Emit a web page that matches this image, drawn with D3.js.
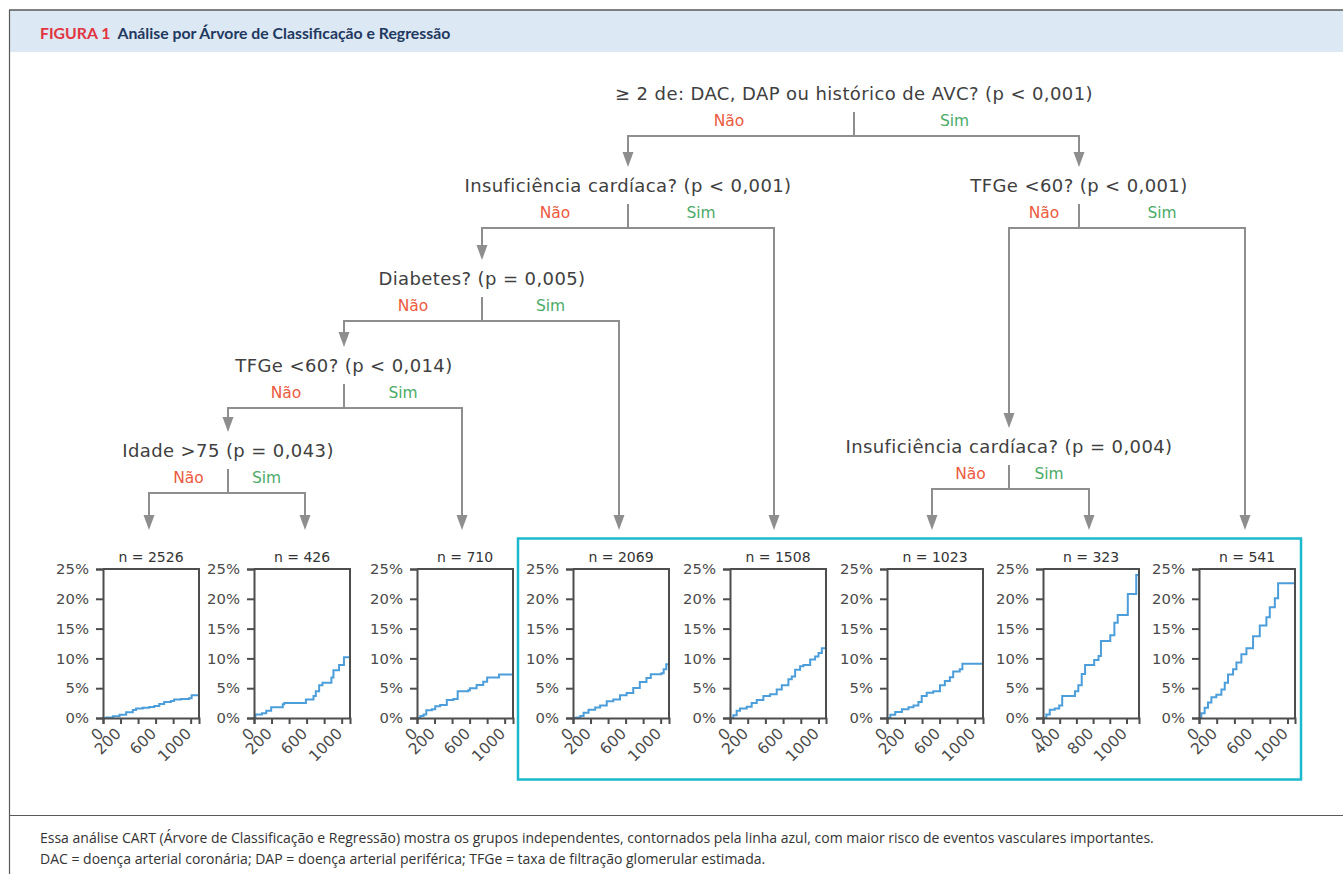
<!DOCTYPE html>
<html>
<head>
<meta charset="utf-8">
<script src="https://cdn.jsdelivr.net/npm/d3@7"></script>
<style>
  body { margin: 0; background: #fff; }
  svg { display: block; }
</style>
</head>
<body>
<svg id="fig" width="1343" height="874"></svg>
<script>
// ---------------------------------------------------------------
// Terminal groups of the tree (left to right): number of patients
const groupN = [2526, 426, 710, 2069, 1508, 1023, 323, 541];

// Cumulative incidence of major vascular events: [day, %]
const risk2526 = [[0,0],[38,0.1],[113,0.3],[189,0.56],[264,0.95],[340,1.35],[377,1.6],[453,1.7],[528,1.85],[585,2.0],[642,2.35],[698,2.7],[774,2.86],[811,3.1],[887,3.2],[981,3.3],[1011,3.8]];
const risk426  = [[0,0],[15,0.6],[91,0.8],[140,1.2],[196,1.8],[328,2.3],[345,2.5],[592,3.1],[679,3.7],[705,4.5],[743,5.5],[781,5.9],[883,6.8],[906,8.0],[970,8.9],[1026,10.2]];
const risk710  = [[0,0],[38,0.35],[75,0.6],[106,1.3],[170,1.45],[208,1.96],[264,2.2],[340,3.0],[415,3.2],[464,4.5],[585,4.65],[604,5.0],[680,5.55],[755,6.1],[800,6.8],[936,7.3]];
const risk2069 = [[0,0],[38,0.1],[83,0.35],[121,0.9],[177,1.4],[253,1.75],[309,2.1],[385,2.8],[460,3.1],[536,3.8],[611,4.2],[687,5.05],[762,6.05],[838,6.7],[887,7.35],[1008,7.5],[1034,8.2],[1064,9.0]];
const risk1508 = [[0,0],[38,0.45],[75,1.2],[113,1.6],[189,1.9],[245,2.5],[302,3.0],[377,3.7],[453,4.0],[528,4.8],[585,5.5],[660,6.5],[698,6.95],[736,8.1],[792,8.7],[830,8.9],[906,9.8],[962,10.3],[1000,10.9],[1038,11.7]];
const risk1023 = [[0,0],[38,0.56],[94,1.0],[170,1.45],[245,1.8],[302,2.1],[358,2.7],[396,3.7],[453,4.25],[528,4.5],[604,5.5],[660,6.2],[717,6.85],[755,7.8],[830,8.2],[860,9.1]];
const risk323  = [[0,0],[40,0.6],[81,1.4],[141,1.6],[194,2.1],[230,3.7],[383,4.5],[423,5.5],[464,7.4],[504,8.9],[613,9.75],[665,10.4],[694,12.9],[806,13.9],[855,16.0],[895,17.3],[1016,20.8],[1117,24.0]];
const risk541  = [[0,0],[26,0.8],[64,1.7],[102,2.6],[140,3.5],[196,3.9],[253,4.8],[291,5.9],[328,7.3],[385,8.2],[423,9.3],[479,10.7],[536,11.7],[611,13.7],[687,15.5],[762,16.9],[800,18.6],[857,20.1],[894,22.6]];
const riskCurves = [risk2526, risk426, risk710, risk2069, risk1508, risk1023, risk323, risk541];

// Length of follow-up shown on each panel (days)
const followUpMax = [1095, 1095, 1095, 1095, 1085, 1095, 1150, 1085];

// Axis ticks
const yTicks = [0, 5, 10, 15, 20, 25];
const xTicks = [0, 200, 400, 600, 800, 1000];
const xTickLabelsDefault = ["0", "200", "", "600", "", "1000"];
const xTickLabels323 = ["0", "400", "", "800", "", "1000"];
const xTickLabels = [xTickLabelsDefault, xTickLabelsDefault, xTickLabelsDefault, xTickLabelsDefault,
                     xTickLabelsDefault, xTickLabelsDefault, xTickLabels323, xTickLabelsDefault];

// Decision nodes: question and p value
const questions = [
  "\u2265 2 de: DAC, DAP ou histórico de AVC?",
  "Insuficiência cardíaca?",
  "TFGe <60?",
  "Diabetes?",
  "TFGe <60?",
  "Idade >75",
  "Insuficiência cardíaca?"
];
const pValues = ["p < 0,001", "p < 0,001", "p < 0,001", "p = 0,005", "p < 0,014", "p = 0,043", "p = 0,004"];
const branchLabels = ["Não", "Sim"];
// Children of each node: "n#" = decision node, "g#" = terminal group
const nodeChildren = [["n1", "n2"], ["n3", "g4"], ["n6", "g7"], ["n4", "g3"], ["n5", "g2"], ["g0", "g1"], ["g5", "g6"]];

const titleLabel = "FIGURA 1";
const titleText = "Análise por Árvore de Classificação e Regressão";
const footnotes = [
  "Essa análise CART (Árvore de Classificação e Regressão) mostra os grupos independentes, contornados pela linha azul, com maior risco de eventos vasculares importantes.",
  "DAC = doença arterial coronária; DAP = doença arterial periférica; TFGe = taxa de filtração glomerular estimada."
];
// Groups outlined as higher risk
const highRiskGroups = [3, 4, 5, 6, 7];

// ---------------------------------------------------------------
// Layout
const W = 1343, H = 874;
const plotLeft = [103, 254, 417, 573, 730, 887, 1043, 1199];
const plotW = 96, plotTop = 569, plotH = 149;
const leafArrowX = [149, 305, 462, 619, 774, 932, 1089, 1245];
const nodeX = [854, 628, 1079, 482, 344, 228, 1009];
const nodeBase = [100, 192, 192, 285, 372, 457, 453];
const leafArrowTip = 530;

const C = {
  frame: "#5a5a5a",
  band: "#dce8f4",
  red: "#e2353f",
  navy: "#1f3960",
  text: "#404040",
  no: "#ec5a40",
  yes: "#4bab67",
  branch: "#8e8e8e",
  axis: "#4d4d4d",
  curve: "#4c9edb",
  outline: "#1cb8cb"
};

const svg = d3.select("#fig");

// Header band and frame
svg.append("rect").attr("x", 10).attr("y", 10).attr("width", W - 10).attr("height", 42).attr("fill", C.band);
svg.append("line").attr("x1", 9).attr("x2", W).attr("y1", 10).attr("y2", 10).attr("stroke", C.frame).attr("stroke-width", 1.6);
svg.append("line").attr("x1", 9.5).attr("x2", 9.5).attr("y1", 10).attr("y2", H).attr("stroke", C.frame).attr("stroke-width", 1.2);
svg.append("line").attr("x1", 9).attr("x2", W).attr("y1", 815.5).attr("y2", 815.5).attr("stroke", C.frame).attr("stroke-width", 1.2);

const title = svg.append("text").attr("x", 40).attr("y", 38.5)
  .style("font-family", "Lato, 'Open Sans', sans-serif").style("font-weight", 700).style("font-size", "15.8px");
title.append("tspan").attr("fill", C.red).text(titleLabel);
title.append("tspan").attr("fill", C.navy).attr("dx", 7).text(titleText);

// Footnotes
svg.selectAll("text.foot").data(footnotes).join("text")
  .attr("class", "foot")
  .attr("x", 40).attr("y", (d, i) => 843 + i * 21)
  .attr("fill", "#333")
  .style("font-family", "'Open Sans', sans-serif").style("font-size", "14px")
  .text(d => d);

// ---------------------------------------------------------------
// Decision tree
const treeFont = "'DejaVu Sans', sans-serif";
const tree = svg.append("g");

function arrow(x, y1, tipY) {
  tree.append("line").attr("x1", x).attr("x2", x).attr("y1", y1).attr("y2", tipY - 12)
    .attr("stroke", C.branch).attr("stroke-width", 2);
  tree.append("path")
    .attr("d", d3.line()([[x - 5.5, tipY - 15], [x + 5.5, tipY - 15], [x, tipY]]) + "Z")
    .attr("fill", C.branch);
}

function childX(id) {
  const idx = +id.slice(1);
  return id[0] === "n" ? nodeX[idx] : leafArrowX[idx];
}
function childTip(id) {
  const idx = +id.slice(1);
  return id[0] === "n" ? nodeBase[idx] - 25 : leafArrowTip;
}

questions.forEach((q, i) => {
  const x = nodeX[i], base = nodeBase[i];
  const barY = base + 36;
  tree.append("text").attr("x", x).attr("y", base).attr("text-anchor", "middle")
    .attr("fill", C.text).style("font-family", treeFont).style("font-size", "18px")
    .style("letter-spacing", "0.4px")
    .text(`${q} (${pValues[i]})`);
  tree.append("line").attr("x1", x).attr("x2", x).attr("y1", base + 12).attr("y2", barY)
    .attr("stroke", C.branch).attr("stroke-width", 2);
  const [a, b] = nodeChildren[i];
  const xa = childX(a), xb = childX(b);
  tree.append("line").attr("x1", xa).attr("x2", xb).attr("y1", barY).attr("y2", barY)
    .attr("stroke", C.branch).attr("stroke-width", 2);
  arrow(xa, barY - 1, childTip(a));
  arrow(xb, barY - 1, childTip(b));
  const shift = i === 0 ? -12 : 0;
  [[xa, branchLabels[0], C.no], [xb, branchLabels[1], C.yes]].forEach(([cx, lab, col]) => {
    tree.append("text").attr("x", (x + cx) / 2 + shift).attr("y", base + 26)
      .attr("text-anchor", "middle").attr("fill", col)
      .style("font-family", treeFont).style("font-size", "15.5px").text(lab);
  });
});

// ---------------------------------------------------------------
// Outline around higher-risk groups
const hrFirst = d3.min(highRiskGroups), hrLast = d3.max(highRiskGroups);
svg.append("rect")
  .attr("x", plotLeft[hrFirst] - 55).attr("y", 538.5)
  .attr("width", plotLeft[hrLast] + plotW + 6 - (plotLeft[hrFirst] - 55)).attr("height", 241)
  .attr("fill", "none").attr("stroke", C.outline).attr("stroke-width", 2.5);

// ---------------------------------------------------------------
// Cumulative incidence panels
const y = d3.scaleLinear().domain([0, 25]).range([plotTop + plotH, plotTop]);

groupN.forEach((n, i) => {
  const x = d3.scaleLinear().domain([0, followUpMax[i]]).range([plotLeft[i], plotLeft[i] + plotW]);
  const g = svg.append("g");

  g.append("text").attr("x", plotLeft[i] + plotW / 2).attr("y", plotTop - 7)
    .attr("text-anchor", "middle").attr("fill", "#333")
    .style("font-family", treeFont).style("font-size", "14px")
    .text(`n = ${n}`);

  const pts = riskCurves[i].concat([[followUpMax[i], riskCurves[i][riskCurves[i].length - 1][1]]]);
  g.append("path").datum(pts)
    .attr("d", d3.line().x(d => x(d[0])).y(d => y(d[1])).curve(d3.curveStepAfter))
    .attr("fill", "none").attr("stroke", C.curve).attr("stroke-width", 2);

  // frame (top and right sides)
  g.append("path")
    .attr("d", `M${plotLeft[i]},${plotTop}H${plotLeft[i] + plotW}V${plotTop + plotH}`)
    .attr("fill", "none").attr("stroke", C.axis).attr("stroke-width", 2);

  const yAxis = g.append("g").attr("transform", `translate(${plotLeft[i]},0)`)
    .call(d3.axisLeft(y).tickValues(yTicks).tickFormat(d => d + "%").tickSize(7).tickPadding(7));
  const xAxis = g.append("g").attr("transform", `translate(0,${plotTop + plotH})`)
    .call(d3.axisBottom(x).tickValues(xTicks).tickFormat((d, k) => xTickLabels[i][k]).tickSize(6));

  [yAxis, xAxis].forEach(ax => {
    ax.select(".domain").attr("stroke", C.axis).attr("stroke-width", 2);
    ax.selectAll(".tick line").attr("stroke", C.axis).attr("stroke-width", 2);
    ax.selectAll("text").attr("fill", "#4a4a4a")
      .style("font-family", treeFont).style("font-size", "14.8px");
  });
  xAxis.selectAll(".tick text")
    .style("font-size", "15.5px")
    .attr("text-anchor", "end")
    .attr("x", -11).attr("y", 7).attr("dy", "0.35em")
    .attr("transform", "rotate(-45)");
});
</script>
</body>
</html>
